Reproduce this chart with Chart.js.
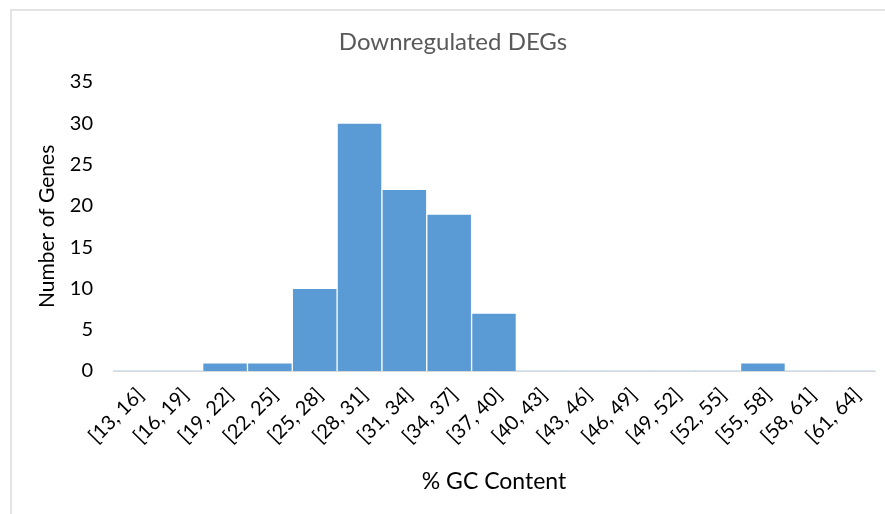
<!DOCTYPE html>
<html>
<head>
<meta charset="utf-8">
<script src="https://cdn.jsdelivr.net/npm/chart.js@4/dist/chart.umd.min.js"></script>
<style>
  html, body { margin: 0; padding: 0; background: #ffffff; overflow: hidden; }
  #frame { position: absolute; left: 10px; top: 9px; width: 900px; height: 520px;
           border-left: 2px solid #e4e4e4; border-top: 2px solid #e4e4e4; }
  #wrap { position: absolute; left: 0; top: 0; width: 885px; height: 514px; }
</style>
</head>
<body>
<div id="frame"></div>
<div id="wrap"><canvas id="chart" width="885" height="514"></canvas></div>
<script>
// GC-content bins (closed intervals of 3 percentage points)
const bins = ["[13, 16]", "[16, 19]", "[19, 22]", "[22, 25]", "[25, 28]", "[28, 31]",
              "[31, 34]", "[34, 37]", "[37, 40]", "[40, 43]", "[43, 46]", "[46, 49]",
              "[49, 52]", "[52, 55]", "[55, 58]", "[58, 61]", "[61, 64]"];
// Number of downregulated genes per bin
const geneCounts = [0, 0, 1, 1, 10, 30, 22, 19, 7, 0, 0, 0, 0, 0, 1, 0, 0];
// Y-axis range and step
const yTicks = { min: 0, max: 35, step: 5 };

const fontFamily = "Lato, 'Open Sans', 'DejaVu Sans', sans-serif";

new Chart(document.getElementById('chart'), {
  type: 'bar',
  data: {
    labels: bins,
    datasets: [{
      data: geneCounts,
      backgroundColor: '#5b9bd5',
      borderColor: '#ffffff',
      borderWidth: ctx => (ctx.raw ? 1 : 0),
      borderSkipped: 'bottom',
      barPercentage: 1.0,
      categoryPercentage: 1.0
    }]
  },
  options: {
    responsive: false,
    animation: false,
    layout: { padding: { left: 31, right: 10, top: 0, bottom: 0 } },
    plugins: {
      legend: { display: false },
      tooltip: { enabled: false },
      title: {
        display: true,
        text: 'Downregulated DEGs',
        color: '#595959',
        font: { family: fontFamily, size: 24, weight: 'normal' },
        padding: { top: 28, bottom: 25 }
      }
    },
    scales: {
      x: {
        grid: { display: false, drawTicks: false, tickLength: 0 },
        border: { display: true, color: '#d9d9d9', width: 1 },
        ticks: {
          color: '#000000',
          font: { family: fontFamily, size: 20 },
          maxRotation: 45, minRotation: 45,
          autoSkip: false,
          labelOffset: 5,
          padding: 12
        },
        title: {
          display: true,
          text: '% GC Content',
          color: '#000000',
          font: { family: fontFamily, size: 23 },
          padding: { top: 0, bottom: 19 }
        },
        afterFit: scale => { scale.height = 143; }
      },
      y: {
        min: yTicks.min,
        max: yTicks.max,
        grid: { display: false, drawTicks: false, tickLength: 0 },
        border: { display: false },
        ticks: {
          stepSize: yTicks.step,
          color: '#000000',
          font: { family: fontFamily, size: 20 },
          padding: 20
        },
        title: {
          display: true,
          text: 'Number of Genes',
          color: '#000000',
          font: { family: fontFamily, size: 21 },
          padding: { top: 4, bottom: 0 }
        },
        afterFit: scale => { scale.width = 82; }
      }
    }
  }
});
</script>
</body>
</html>
